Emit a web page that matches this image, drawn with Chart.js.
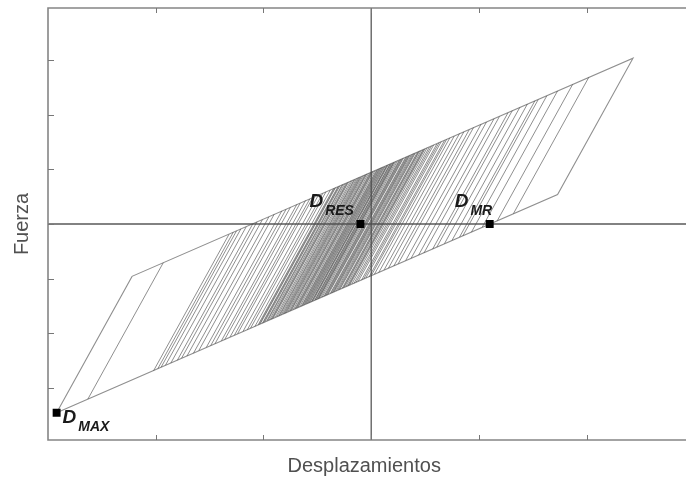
<!DOCTYPE html>
<html>
<head>
<meta charset="utf-8">
<script src="https://cdn.jsdelivr.net/npm/chart.js@4"></script>
<style>
  html, body { margin: 0; padding: 0; background: #fff; overflow: hidden; }
  canvas { display: block; }
</style>
</head>
<body>
<canvas id="c" width="686" height="479"></canvas>
<script>
// Outer hysteresis loop: D_MAX -> yield -> peak -> unloading -> back to D_MAX
const contornoDesp   = [-29.2, -22.2, 24.3, 17.3, -29.2];
const contornoFuerza = [-34.6,  -9.6, 30.4,  5.4, -34.6];

// Inner elastic branches (lower end -> upper end) of the cyclic response
const ramaDespInf = [-26.3, -20.2, -19.8, -19.5, -19.1, -18.6, -18.0, -17.6, -17.1, -16.5, -16.0, -15.3, -14.9, -14.5, -13.9, -13.6, -13.1, -12.7, -12.4, -11.9, -11.5, -11.2, -10.8,
  -10.5, -10.3, -10.1, -9.7, -9.6, -9.3, -9.1, -8.9, -8.6, -8.5, -8.2, -8.0, -7.9, -7.6, -7.4, -7.1, -6.9, -6.8, -6.5, -6.3, -6.1, -5.8, -5.7, -5.4, -5.1, -5.0, -4.7, -4.4, -4.2, -4.0,
  -3.6, -3.4, -3.1, -2.7, -2.5, -2.2, -1.8, -1.6, -1.2, -0.9, -0.5, -0.2, 0.3, 0.7, 1.2, 1.6, 2.1, 2.5, 3.2, 3.7, 4.4, 4.9, 5.7, 6.1, 6.8, 7.5, 8.2, 8.5, 9.3, 10.3, 11.7, 13.2,
  -10.4, -9.9, -9.45, -8.75, -8.35, -7.75, -7.25, -6.65, -6.2, -5.55, -5.25, -4.85, -4.55, -3.8, -3.25, -2.9, -2.35, -2.0, -1.4, -0.7, 0.0,
  -10.0, -9.2, -8.1, -7.5, -7.0, -6.4, -6.0, -5.9, -5.5, -5.2, -4.9, -4.3, -4.1, -3.7, -3.5, -3.0, -2.6, -2.1];
const ramaFuerzaInf = [-32.1, -26.9, -26.5, -26.25, -25.9, -25.5, -25.0, -24.6, -24.2, -23.7, -23.2, -22.6, -22.3, -21.95, -21.4, -21.2, -20.7, -20.4, -20.1, -19.7, -19.4, -19.1, -18.8,
  -18.5, -18.3, -18.2, -17.8, -17.7, -17.5, -17.3, -17.1, -16.9, -16.8, -16.5, -16.4, -16.3, -16.0, -15.8, -15.6, -15.4, -15.3, -15.1, -14.9, -14.7, -14.5, -14.4, -14.1, -13.9, -13.8,
  -13.5, -13.3, -13.1, -12.9, -12.6, -12.4, -12.1, -11.8, -11.6, -11.4, -11.0, -10.9, -10.5, -10.3, -9.9, -9.7, -9.2, -8.9, -8.4, -8.1, -7.7, -7.3, -6.7, -6.3, -5.7, -5.3, -4.6,
  -4.2, -3.6, -3.0, -2.4, -2.2, -1.5, -0.6, 0.6, 1.9,
  -18.42, -18.0, -17.61, -17.0, -16.66, -16.14, -15.71, -15.2, -14.81, -14.25, -14.0, -13.65, -13.39, -12.75, -12.27, -11.97, -11.5, -11.2, -10.68, -10.08, -9.48,
  -18.08, -17.39, -16.45, -15.93, -15.5, -14.98, -14.64, -14.55, -14.21, -13.95, -13.69, -13.18, -13.01, -12.66, -12.49, -12.06, -11.72, -11.29];
const ramaDespSup = [-19.3, -13.2, -12.8, -12.5, -12.1, -11.6, -11.0, -10.6, -10.1, -9.5, -9.0, -8.3, -7.9, -7.5, -6.9, -6.6, -6.1, -5.7, -5.4, -4.9, -4.5, -4.2, -3.8,
  -3.5, -3.3, -3.1, -2.7, -2.6, -2.3, -2.1, -1.9, -1.6, -1.5, -1.2, -1.0, -0.9, -0.6, -0.4, -0.1, 0.1, 0.2, 0.5, 0.7, 0.9, 1.2, 1.3, 1.6, 1.9, 2.0, 2.3, 2.6, 2.8, 3.0,
  3.4, 3.6, 3.9, 4.3, 4.5, 4.8, 5.2, 5.4, 5.8, 6.1, 6.5, 6.8, 7.3, 7.7, 8.2, 8.6, 9.1, 9.5, 10.2, 10.7, 11.4, 11.9, 12.7, 13.1, 13.8, 14.5, 15.2, 15.5, 16.3, 17.3, 18.7, 20.2,
  -3.4, -2.9, -2.45, -1.75, -1.35, -0.75, -0.25, 0.35, 0.8, 1.45, 1.75, 2.15, 2.45, 3.2, 3.75, 4.1, 4.65, 5.0, 5.6, 6.3, 7.0,
  -3.0, -2.2, -1.1, -0.5, 0.0, 0.6, 1.0, 1.1, 1.5, 1.8, 2.1, 2.7, 2.9, 3.3, 3.5, 4.0, 4.4, 4.9];
const ramaFuerzaSup = [-7.1, -1.9, -1.5, -1.25, -0.9, -0.5, 0.0, 0.4, 0.8, 1.3, 1.8, 2.4, 2.7, 3.05, 3.6, 3.8, 4.3, 4.6, 4.9, 5.3, 5.6, 5.9, 6.2,
  6.5, 6.7, 6.8, 7.2, 7.3, 7.5, 7.7, 7.9, 8.1, 8.2, 8.5, 8.6, 8.7, 9.0, 9.2, 9.4, 9.6, 9.7, 9.9, 10.1, 10.3, 10.5, 10.6, 10.9, 11.1, 11.2, 11.5, 11.7, 11.9, 12.1,
  12.4, 12.6, 12.9, 13.2, 13.4, 13.6, 14.0, 14.1, 14.5, 14.7, 15.1, 15.3, 15.8, 16.1, 16.6, 16.9, 17.3, 17.7, 18.3, 18.7, 19.3, 19.7, 20.4, 20.8, 21.4, 22.0, 22.6, 22.8,
  23.5, 24.4, 25.6, 26.9,
  6.58, 7.0, 7.39, 8.0, 8.34, 8.86, 9.29, 9.8, 10.19, 10.75, 11.0, 11.35, 11.61, 12.25, 12.73, 13.03, 13.5, 13.8, 14.32, 14.92, 15.52,
  6.92, 7.61, 8.55, 9.07, 9.5, 10.02, 10.36, 10.45, 10.79, 11.05, 11.31, 11.82, 11.99, 12.34, 12.51, 12.94, 13.28, 13.71];

// Marked points: maximum displacement, residual displacement, maximum residual displacement
const puntosNombre = ['MAX', 'RES', 'MR'];
const puntosDesp   = [-29.2, -1.0, 11.0];
const puntosFuerza = [-34.6, 0.0, 0.0];

// Tick positions on the frame (no labels)
const ticksDesp   = [-20, -10, 0, 10, 20];
const ticksFuerza = [-30, -20, -10, 0, 10, 20, 30];

const contorno = contornoDesp.map((x, i) => ({ x, y: contornoFuerza[i] }));
const ramas = [];
const n = Math.min(ramaDespInf.length, ramaFuerzaInf.length, ramaDespSup.length, ramaFuerzaSup.length);
for (let i = 0; i < n; i++) {
  ramas.push({ x: ramaDespInf[i], y: ramaFuerzaInf[i] });
  ramas.push({ x: ramaDespSup[i], y: ramaFuerzaSup[i] });
  ramas.push({ x: ramaDespSup[i], y: null });
}
const puntos = puntosDesp.map((x, i) => ({ x, y: puntosFuerza[i] }));

const lineColor = 'rgba(75,75,75,0.62)';

// Zero lines, frame, inward ticks and the D subscript labels
const decor = {
  id: 'decor',
  beforeDatasetsDraw(chart) {
    const { ctx, chartArea: a, scales: { x, y } } = chart;
    ctx.save();
    ctx.strokeStyle = '#5a5a5a';
    ctx.lineWidth = 1.3;
    const x0 = x.getPixelForValue(0), y0 = y.getPixelForValue(0);
    ctx.beginPath();
    ctx.moveTo(x0, a.top); ctx.lineTo(x0, a.bottom);
    ctx.moveTo(a.left, y0); ctx.lineTo(chart.width, y0);
    ctx.stroke();
    ctx.restore();
  },
  afterDatasetsDraw(chart) {
    const { ctx, chartArea: a, scales: { x, y } } = chart;
    ctx.save();
    ctx.strokeStyle = '#858585';
    ctx.lineWidth = 1.6;
    ctx.beginPath();
    ctx.moveTo(chart.width, a.top); ctx.lineTo(a.left, a.top);
    ctx.lineTo(a.left, a.bottom); ctx.lineTo(chart.width, a.bottom);
    ctx.stroke();
    ctx.lineWidth = 1;
    ctx.strokeStyle = '#777';
    ctx.beginPath();
    ticksDesp.forEach(v => {
      const px = Math.round(x.getPixelForValue(v)) + 0.5;
      ctx.moveTo(px, a.bottom); ctx.lineTo(px, a.bottom - 5);
      ctx.moveTo(px, a.top); ctx.lineTo(px, a.top + 5);
    });
    ticksFuerza.forEach(v => {
      const py = Math.round(y.getPixelForValue(v)) + 0.5;
      ctx.moveTo(a.left, py); ctx.lineTo(a.left + 6, py);
    });
    ctx.stroke();

    // D labels
    const offs = {
      MAX: { dx: 6, dy: 10 },
      RES: { dx: -51, dy: -17 },
      MR:  { dx: -35, dy: -17 }
    };
    ctx.fillStyle = '#1a1a1a';
    ctx.textBaseline = 'alphabetic';
    puntosNombre.forEach((name, i) => {
      const px = x.getPixelForValue(puntosDesp[i]);
      const py = y.getPixelForValue(puntosFuerza[i]);
      const o = offs[name];
      ctx.font = 'italic bold 19px "Liberation Sans", Arial, sans-serif';
      ctx.fillText('D', px + o.dx, py + o.dy);
      const w = ctx.measureText('D').width;
      ctx.font = 'italic bold 14px "Liberation Sans", Arial, sans-serif';
      ctx.fillText(name, px + o.dx + w + 2, py + o.dy + 8);
    });
    ctx.restore();
  }
};

new Chart(document.getElementById('c'), {
  type: 'scatter',
  data: {
    datasets: [
      { data: ramas, showLine: true, spanGaps: false, borderColor: lineColor, borderWidth: 1, pointRadius: 0, order: 3 },
      { data: contorno, showLine: true, borderColor: lineColor, borderWidth: 1.1, pointRadius: 0, order: 2 },
      { data: puntos, showLine: false, pointStyle: 'rect', pointRadius: 5.6, backgroundColor: '#000', borderColor: '#000', borderWidth: 0, order: 1 }
    ]
  },
  options: {
    responsive: false,
    animation: false,
    events: [],
    layout: { padding: { top: 8, right: 0, bottom: 0, left: 0 } },
    plugins: { legend: { display: false }, tooltip: { enabled: false } },
    scales: {
      x: {
        type: 'linear', min: -30, max: 28.7,
        grid: { display: false, drawTicks: false },
        border: { display: false },
        ticks: { display: false },
        title: { display: true, text: 'Desplazamientos', color: '#505050',
                 font: { family: '"Liberation Sans", Arial, sans-serif', size: 20, lineHeight: 1.2 },
                 padding: { top: 14, bottom: 1 } }
      },
      y: {
        type: 'linear', min: -39.6, max: 39.6,
        grid: { display: false, drawTicks: false },
        border: { display: false },
        ticks: { display: false },
        title: { display: true, text: 'Fuerza', color: '#505050',
                 font: { family: '"Liberation Sans", Arial, sans-serif', size: 20, lineHeight: 1.2 },
                 padding: { top: 10, bottom: 14 } }
      }
    }
  },
  plugins: [decor]
});
</script>
</body>
</html>
